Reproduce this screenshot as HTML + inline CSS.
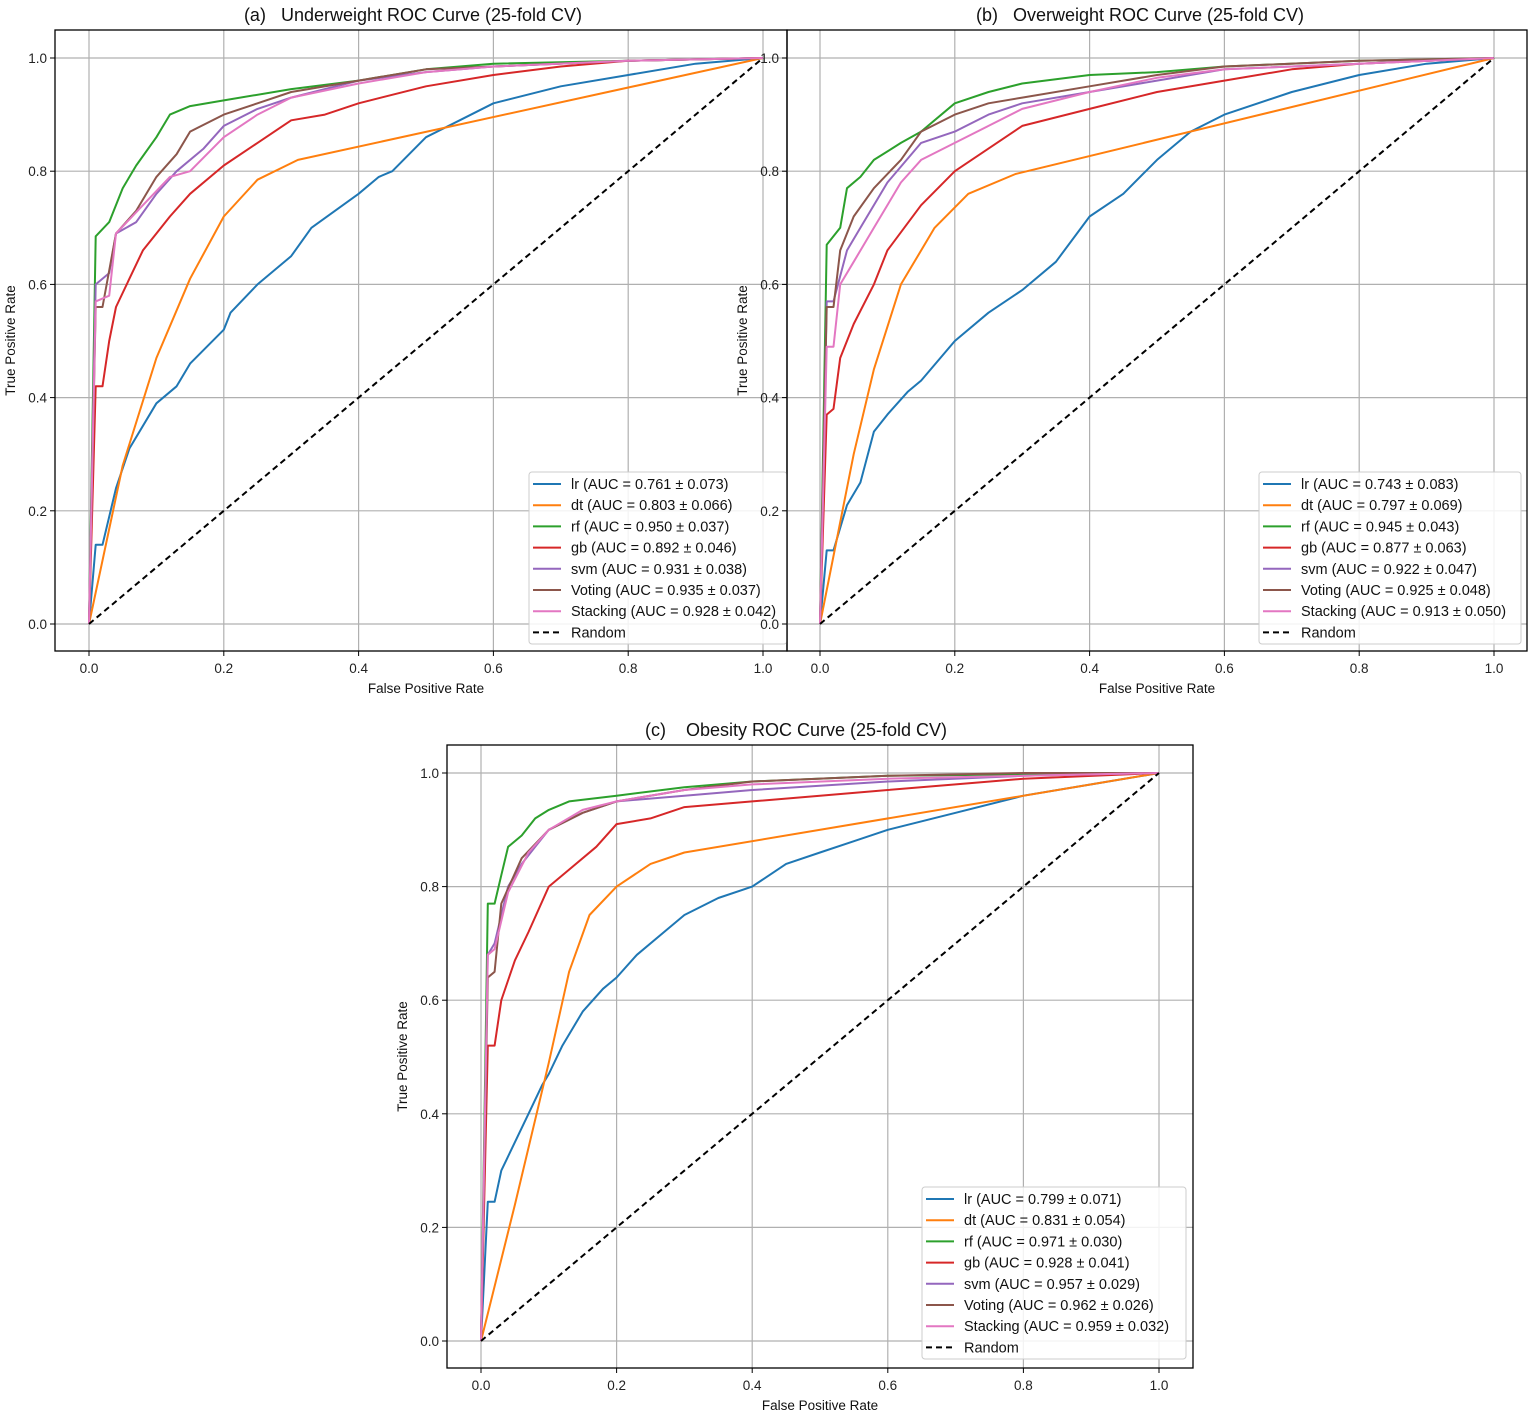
<!DOCTYPE html>
<html><head><meta charset="utf-8"><style>
body{margin:0;background:#fff;}
svg{display:block;font-family:"Liberation Sans","DejaVu Sans",sans-serif;}
.pre{white-space:pre;}
</style></head><body>
<svg id="fig" width="1535" height="1415" viewBox="0 0 1535 1415" xmlns="http://www.w3.org/2000/svg"></svg>
<script>
const models = ["lr","dt","rf","gb","svm","Voting","Stacking"];
const colors = ["#1f77b4","#ff7f0e","#2ca02c","#d62728","#9467bd","#8c564b","#e377c2"];
const ticks = [0,0.2,0.4,0.6,0.8,1.0];
const tickLabels = ["0.0","0.2","0.4","0.6","0.8","1.0"];

const aucA = ["0.761 ± 0.073","0.803 ± 0.066","0.950 ± 0.037","0.892 ± 0.046","0.931 ± 0.038","0.935 ± 0.037","0.928 ± 0.042"];
const aucB = ["0.743 ± 0.083","0.797 ± 0.069","0.945 ± 0.043","0.877 ± 0.063","0.922 ± 0.047","0.925 ± 0.048","0.913 ± 0.050"];
const aucC = ["0.799 ± 0.071","0.831 ± 0.054","0.971 ± 0.030","0.928 ± 0.041","0.957 ± 0.029","0.962 ± 0.026","0.959 ± 0.032"];

const curvesA = [
 [[0,0],[0.01,0.14],[0.02,0.14],[0.04,0.24],[0.06,0.31],[0.1,0.39],[0.13,0.42],[0.15,0.46],[0.2,0.52],[0.21,0.55],[0.25,0.6],[0.3,0.65],[0.33,0.7],[0.4,0.76],[0.43,0.79],[0.45,0.8],[0.5,0.86],[0.55,0.89],[0.6,0.92],[0.7,0.95],[0.8,0.97],[0.9,0.99],[1,1]],
 [[0,0],[0.05,0.28],[0.1,0.47],[0.15,0.61],[0.2,0.72],[0.25,0.785],[0.31,0.82],[1,1]],
 [[0,0],[0.01,0.685],[0.03,0.71],[0.05,0.77],[0.07,0.81],[0.1,0.86],[0.12,0.9],[0.15,0.915],[0.2,0.925],[0.3,0.945],[0.4,0.96],[0.5,0.98],[0.6,0.99],[0.8,0.995],[1,1]],
 [[0,0],[0.01,0.42],[0.02,0.42],[0.03,0.5],[0.04,0.56],[0.06,0.61],[0.08,0.66],[0.1,0.69],[0.12,0.72],[0.15,0.76],[0.2,0.81],[0.25,0.85],[0.3,0.89],[0.35,0.9],[0.4,0.92],[0.5,0.95],[0.6,0.97],[0.7,0.985],[0.8,0.995],[1,1]],
 [[0,0],[0.01,0.6],[0.03,0.62],[0.04,0.69],[0.07,0.71],[0.1,0.76],[0.13,0.8],[0.17,0.84],[0.2,0.88],[0.25,0.91],[0.3,0.93],[0.4,0.96],[0.5,0.975],[0.6,0.985],[0.8,0.995],[1,1]],
 [[0,0],[0.01,0.56],[0.02,0.56],[0.04,0.69],[0.07,0.73],[0.1,0.79],[0.13,0.83],[0.15,0.87],[0.2,0.9],[0.25,0.92],[0.3,0.94],[0.4,0.96],[0.5,0.98],[0.6,0.985],[0.8,0.995],[1,1]],
 [[0,0],[0.01,0.57],[0.03,0.58],[0.04,0.69],[0.08,0.74],[0.12,0.79],[0.15,0.8],[0.2,0.86],[0.25,0.9],[0.3,0.93],[0.4,0.955],[0.5,0.975],[0.6,0.985],[0.8,0.995],[1,1]]
];
const curvesB = [
 [[0,0],[0.01,0.13],[0.02,0.13],[0.04,0.21],[0.06,0.25],[0.08,0.34],[0.1,0.37],[0.13,0.41],[0.15,0.43],[0.2,0.5],[0.25,0.55],[0.3,0.59],[0.35,0.64],[0.4,0.72],[0.45,0.76],[0.5,0.82],[0.55,0.87],[0.6,0.9],[0.7,0.94],[0.8,0.97],[0.9,0.99],[1,1]],
 [[0,0],[0.05,0.3],[0.08,0.45],[0.12,0.6],[0.17,0.7],[0.22,0.76],[0.29,0.795],[1,1]],
 [[0,0],[0.01,0.67],[0.03,0.7],[0.04,0.77],[0.06,0.79],[0.08,0.82],[0.12,0.85],[0.15,0.87],[0.2,0.92],[0.25,0.94],[0.3,0.955],[0.4,0.97],[0.5,0.975],[0.6,0.985],[0.8,0.995],[1,1]],
 [[0,0],[0.01,0.37],[0.02,0.38],[0.03,0.47],[0.05,0.53],[0.08,0.6],[0.1,0.66],[0.15,0.74],[0.2,0.8],[0.25,0.84],[0.3,0.88],[0.4,0.91],[0.5,0.94],[0.6,0.96],[0.7,0.98],[0.8,0.99],[1,1]],
 [[0,0],[0.01,0.57],[0.02,0.57],[0.04,0.66],[0.06,0.7],[0.1,0.78],[0.15,0.85],[0.2,0.87],[0.25,0.9],[0.3,0.92],[0.4,0.94],[0.5,0.96],[0.6,0.98],[0.8,0.99],[1,1]],
 [[0,0],[0.01,0.56],[0.02,0.56],[0.03,0.66],[0.05,0.72],[0.08,0.77],[0.12,0.82],[0.15,0.87],[0.2,0.9],[0.25,0.92],[0.3,0.93],[0.4,0.95],[0.5,0.97],[0.6,0.985],[0.8,0.995],[1,1]],
 [[0,0],[0.01,0.49],[0.02,0.49],[0.03,0.6],[0.05,0.64],[0.08,0.7],[0.12,0.78],[0.15,0.82],[0.2,0.85],[0.25,0.88],[0.3,0.91],[0.4,0.94],[0.5,0.965],[0.6,0.98],[0.8,0.99],[1,1]]
];
const curvesC = [
 [[0,0],[0.01,0.245],[0.02,0.245],[0.03,0.3],[0.05,0.35],[0.07,0.4],[0.09,0.45],[0.1,0.47],[0.12,0.52],[0.15,0.58],[0.18,0.62],[0.2,0.64],[0.23,0.68],[0.27,0.72],[0.3,0.75],[0.35,0.78],[0.4,0.8],[0.45,0.84],[0.5,0.86],[0.55,0.88],[0.6,0.9],[0.7,0.93],[0.8,0.96],[0.9,0.98],[1,1]],
 [[0,0],[0.05,0.24],[0.1,0.49],[0.13,0.65],[0.16,0.75],[0.2,0.8],[0.25,0.84],[0.3,0.86],[1,1]],
 [[0,0],[0.01,0.77],[0.02,0.77],[0.03,0.82],[0.04,0.87],[0.06,0.89],[0.08,0.92],[0.1,0.935],[0.13,0.95],[0.2,0.96],[0.3,0.975],[0.4,0.985],[0.6,0.995],[1,1]],
 [[0,0],[0.01,0.52],[0.02,0.52],[0.03,0.6],[0.05,0.67],[0.07,0.72],[0.1,0.8],[0.13,0.83],[0.17,0.87],[0.2,0.91],[0.25,0.92],[0.3,0.94],[0.4,0.95],[0.5,0.96],[0.6,0.97],[0.7,0.98],[0.8,0.99],[1,1]],
 [[0,0],[0.01,0.68],[0.02,0.7],[0.04,0.8],[0.06,0.84],[0.08,0.87],[0.1,0.9],[0.15,0.93],[0.2,0.95],[0.3,0.96],[0.4,0.97],[0.6,0.985],[0.8,0.995],[1,1]],
 [[0,0],[0.01,0.64],[0.02,0.65],[0.03,0.77],[0.06,0.85],[0.1,0.9],[0.15,0.93],[0.2,0.95],[0.3,0.97],[0.4,0.985],[0.6,0.995],[0.8,1],[1,1]],
 [[0,0],[0.01,0.68],[0.02,0.69],[0.04,0.79],[0.07,0.86],[0.1,0.9],[0.15,0.935],[0.2,0.95],[0.3,0.97],[0.4,0.98],[0.6,0.99],[0.8,0.995],[1,1]]
];

const NS="http://www.w3.org/2000/svg";
const svg=document.getElementById('fig');
function mk(tag,attrs,parent,text){const e=document.createElementNS(NS,tag);for(const k in attrs)e.setAttribute(k,attrs[k]);if(text!==undefined)e.textContent=text;(parent||svg).appendChild(e);return e;}

function panel(cfg){
  const g=mk('g',{});
  
  
  const sx=v=>cfg.x0+v*(cfg.x1-cfg.x0);
  const sy=v=>cfg.y0+v*(cfg.y1-cfg.y0);
  ticks.forEach((t,i)=>{
    const gx=mk('line',{x1:sx(t),x2:sx(t),y1:cfg.top,y2:cfg.bottom,stroke:'#b0b0b0','stroke-width':1.2},g);
    
    
    const gy=mk('line',{x1:cfg.left,x2:cfg.right,y1:sy(t),y2:sy(t),stroke:'#b0b0b0','stroke-width':1.2},g);
    
    
    mk('line',{x1:sx(t),x2:sx(t),y1:cfg.bottom,y2:cfg.bottom+5,stroke:'#000'},g);
    mk('line',{x1:cfg.left-5,x2:cfg.left,y1:sy(t),y2:sy(t),stroke:'#000'},g);
    const xl=mk('text',{x:sx(t),y:cfg.bottom+22,'font-size':13.5,'text-anchor':'middle',fill:'#222'},g,tickLabels[i]);
    
    
    const yl=mk('text',{x:cfg.left-8,y:sy(t)+5,'font-size':13.5,'text-anchor':'end',fill:'#222'},g,tickLabels[i]);
    
    
  });
  cfg.curves.forEach((c,i)=>{
    const p=mk('polyline',{points:c.map(d=>sx(d[0]).toFixed(1)+','+sy(d[1]).toFixed(1)).join(' '),fill:'none',stroke:colors[i],'stroke-width':2,'stroke-linejoin':'round'},g);
    
    
  });
  const r=mk('line',{x1:sx(0),y1:sy(0),x2:sx(1),y2:sy(1),stroke:'#000','stroke-width':2,'stroke-dasharray':'6,4'},g);
  
  
  const f=mk('rect',{x:cfg.left,y:cfg.top,width:cfg.right-cfg.left,height:cfg.bottom-cfg.top,fill:'none',stroke:'#000','stroke-width':1.3},g);
  
  
  const t=mk('text',{x:cfg.tx,y:cfg.top-9,'font-size':18,'text-anchor':'middle',fill:'#111','class':'pre'},g,cfg.title);
  
  
  const xlab=mk('text',{x:(sx(0)+sx(1))/2,y:cfg.bottom+42,'font-size':13.5,'text-anchor':'middle',fill:'#111'},g,'False Positive Rate');
  
  
  const yc=(cfg.top+cfg.bottom)/2;
  const ylab=mk('text',{x:cfg.left-40,y:yc,'font-size':13.5,'text-anchor':'middle',fill:'#111',transform:`rotate(-90 ${cfg.left-40} ${yc})`},g,'True Positive Rate');
  
  
  const lg=mk('g',{},g);
  
  
  mk('rect',{x:cfg.lx,y:cfg.ly,width:cfg.lw,height:172,rx:3,fill:'#fff','fill-opacity':0.85,stroke:'#ccc'},lg);
  const labels=models.map((m,i)=>m+' (AUC = '+cfg.auc[i]+')').concat(['Random']);
  labels.forEach((lab,i)=>{
    const yy=cfg.ly+12+i*21.2;
    const ent=mk('g',{},lg);
    
    
    mk('line',{x1:cfg.lx+4,x2:cfg.lx+32,y1:yy,y2:yy,stroke:i<7?colors[i]:'#000','stroke-width':2,'stroke-dasharray':i<7?'none':'6,4'},ent);
    mk('text',{x:cfg.lx+42,y:yy+5,'font-size':14.5,fill:'#111'},ent,lab);
  });
}

panel({id:'underweight',left:55,right:787,top:30,bottom:651,x0:89,x1:763,y0:624,y1:58,tx:413,
  title:'(a)   Underweight ROC Curve (25-fold CV)',curves:curvesA,auc:aucA,lx:529,ly:472,lw:258});
panel({id:'overweight',left:787,right:1527,top:30,bottom:651,x0:820,x1:1494,y0:624,y1:58,tx:1140,
  title:'(b)   Overweight ROC Curve (25-fold CV)',curves:curvesB,auc:aucB,lx:1259,ly:472,lw:262});
panel({id:'obesity',left:447,right:1193,top:745,bottom:1368,x0:481,x1:1159,y0:1341,y1:773,tx:796,
  title:'(c)    Obesity ROC Curve (25-fold CV)',curves:curvesC,auc:aucC,lx:922,ly:1187,lw:264});
</script>
</body></html>
